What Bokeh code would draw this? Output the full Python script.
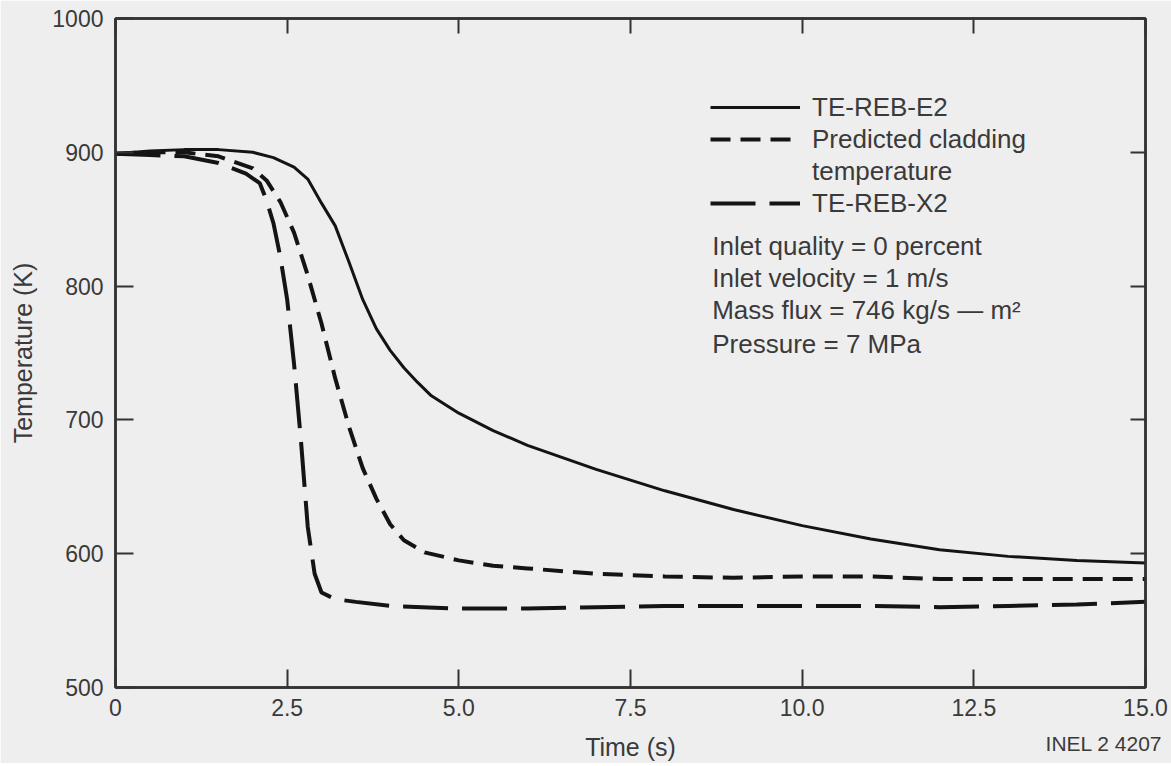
from bokeh.plotting import figure
from bokeh.models import (LinearAxis, FixedTicker, CustomJSTickFormatter, Legend,
                          LegendItem, Label, Range1d)
from bokeh.embed import file_html
from bokeh.resources import INLINE

# ---- data ----
time_e2 = [0, 0.5, 1.0, 1.5, 2.0, 2.3, 2.6, 2.8, 3.0, 3.2, 3.4, 3.6, 3.8, 4.0, 4.2, 4.4, 4.6,
           5.0, 5.5, 6.0, 6.5, 7.0, 7.5, 8.0, 9.0, 10.0, 11.0, 12.0, 13.0, 14.0, 15.0]
temp_e2 = [899, 901, 902, 902, 900, 896, 889, 880, 862, 845, 818, 790, 768, 752, 739, 728, 718,
           705, 692, 681, 672, 663, 655, 647, 633, 621, 611, 603, 598, 595, 593]

time_pred = [0, 0.5, 1.0, 1.5, 2.0, 2.2, 2.4, 2.6, 2.8, 3.0, 3.2, 3.4, 3.6, 3.8, 4.0, 4.2, 4.5,
             5.0, 5.5, 6.0, 7.0, 8.0, 9.0, 10.0, 11.0, 12.0, 13.0, 14.0, 15.0]
temp_pred = [899, 900, 900, 897, 888, 879, 863, 840, 808, 772, 731, 695, 664, 641, 622, 610, 601,
             595, 591, 589, 585, 583, 582, 583, 583, 581, 581, 581, 581]

time_x2 = [0, 0.5, 1.0, 1.5, 1.9, 2.1, 2.2, 2.3, 2.4, 2.5, 2.6, 2.7, 2.8, 2.9, 3.0, 3.2, 3.5,
           4.0, 5.0, 6.0, 7.0, 8.0, 9.0, 10.0, 11.0, 12.0, 13.0, 14.0, 15.0]
temp_x2 = [899, 898, 897, 892, 884, 877, 864, 847, 822, 790, 742, 685, 620, 585, 571, 566, 564,
           561, 559, 559, 560, 561, 561, 561, 561, 560, 561, 562, 564]

x_ticks = [0, 2.5, 5.0, 7.5, 10.0, 12.5, 15.0]
y_ticks = [500, 600, 700, 800, 900, 1000]

series_labels = ["TE-REB-E2", "Predicted cladding", "temperature", "TE-REB-X2"]
notes = ["Inlet quality = 0 percent", "Inlet velocity = 1 m/s",
         "Mass flux = 746 kg/s \u2014 m\u00b2", "Pressure = 7 MPa"]
x_title = "Time (s)"
y_title = "Temperature (K)"
figure_id = "INEL 2 4207"

# ---- styling ----
FONT = "Liberation Sans"
BG = "#eeeeee"
INK = "#141414"
TXT = "#3a3a3a"
AX = "#333333"

p = figure(frame_width=1030, frame_height=669, output_backend="svg", toolbar_location=None,
           x_range=Range1d(0, 15), y_range=Range1d(500, 1000),
           x_axis_location=None, y_axis_location=None,
           min_border_left=115, min_border_right=26, min_border_top=18, min_border_bottom=60)
p.background_fill_color = BG
p.border_fill_color = BG
p.outline_line_color = AX
p.outline_line_width = 2.5
p.xgrid.visible = False
p.ygrid.visible = False

blank = CustomJSTickFormatter(code="return '';")


def style_axis(ax, tick_in, show_labels):
    ax.axis_line_color = AX
    ax.axis_line_width = 2.5
    ax.major_tick_line_color = AX
    ax.major_tick_line_width = 2
    ax.major_tick_in = tick_in
    ax.major_tick_out = 0
    ax.minor_tick_line_color = None
    ax.major_label_text_font = FONT
    ax.major_label_text_color = TXT
    ax.axis_label_text_font = FONT
    ax.axis_label_text_color = TXT
    ax.axis_label_text_font_style = "normal"
    if not show_labels:
        ax.major_label_text_font_size = "1px"
        ax.major_label_text_alpha = 0
        ax.major_label_standoff = 0


fmt_x = CustomJSTickFormatter(code="return tick == 0 ? '0' : tick.toFixed(1);")

xb = LinearAxis(ticker=FixedTicker(ticks=x_ticks), formatter=fmt_x, axis_label=x_title)
style_axis(xb, 18, True)
xb.major_label_text_font_size = "23px"
xb.major_label_standoff = 11
xb.axis_label_text_font_size = "25px"
xb.axis_label_standoff = 14
p.add_layout(xb, "below")

# figure number, printed at the lower right on the same line as the axis title
xid = LinearAxis(ticker=FixedTicker(ticks=[14.395]),
                 formatter=CustomJSTickFormatter(args=dict(label=figure_id), code="return label;"))
xid.axis_line_color = None
xid.major_tick_line_color = None
xid.minor_tick_line_color = None
xid.major_tick_in = 0
xid.major_tick_out = 0
xid.major_label_text_font = FONT
xid.major_label_text_font_size = "21px"
xid.major_label_text_color = TXT
xid.major_label_standoff = -32
p.add_layout(xid, "below")

xt = LinearAxis(ticker=FixedTicker(ticks=x_ticks), formatter=blank)
style_axis(xt, 15, False)
p.add_layout(xt, "above")

yl = LinearAxis(ticker=FixedTicker(ticks=y_ticks), axis_label=y_title)
style_axis(yl, 18, True)
yl.major_label_text_font_size = "23px"
yl.major_label_standoff = 12
yl.axis_label_text_font_size = "25px"
yl.axis_label_standoff = 12
p.add_layout(yl, "left")

yr = LinearAxis(ticker=FixedTicker(ticks=y_ticks), formatter=blank)
style_axis(yr, 15, False)
p.add_layout(yr, "right")

# ---- curves ----
r_e2 = p.line(time_e2, temp_e2, line_color=INK, line_width=3)
r_pred = p.line(time_pred, temp_pred, line_color=INK, line_width=4, line_dash="20 10")
r_x2 = p.line(time_x2, temp_x2, line_color=INK, line_width=4, line_dash="45 14")

legend = Legend(items=[
    LegendItem(label=series_labels[0], renderers=[r_e2]),
    LegendItem(label=series_labels[1], renderers=[r_pred]),
    LegendItem(label=series_labels[2], renderers=[]),
    LegendItem(label=series_labels[3], renderers=[r_x2]),
], location=(595, 468), glyph_width=90, glyph_height=20, label_height=32, label_standoff=12,
    spacing=0, padding=0, margin=0, border_line_color=None, background_fill_alpha=0,
    label_text_font=FONT, label_text_font_size="26px", label_text_color=TXT)
p.add_layout(legend)

note_y = [830, 806, 782, 757]
for txt, yy in zip(notes, note_y):
    p.add_layout(Label(x=8.69, y=yy, text=txt, text_font=FONT, text_font_size="26px",
                       text_color=TXT, text_baseline="middle", text_align="left"))

open("out.html", "w").write(file_html(p, INLINE))
